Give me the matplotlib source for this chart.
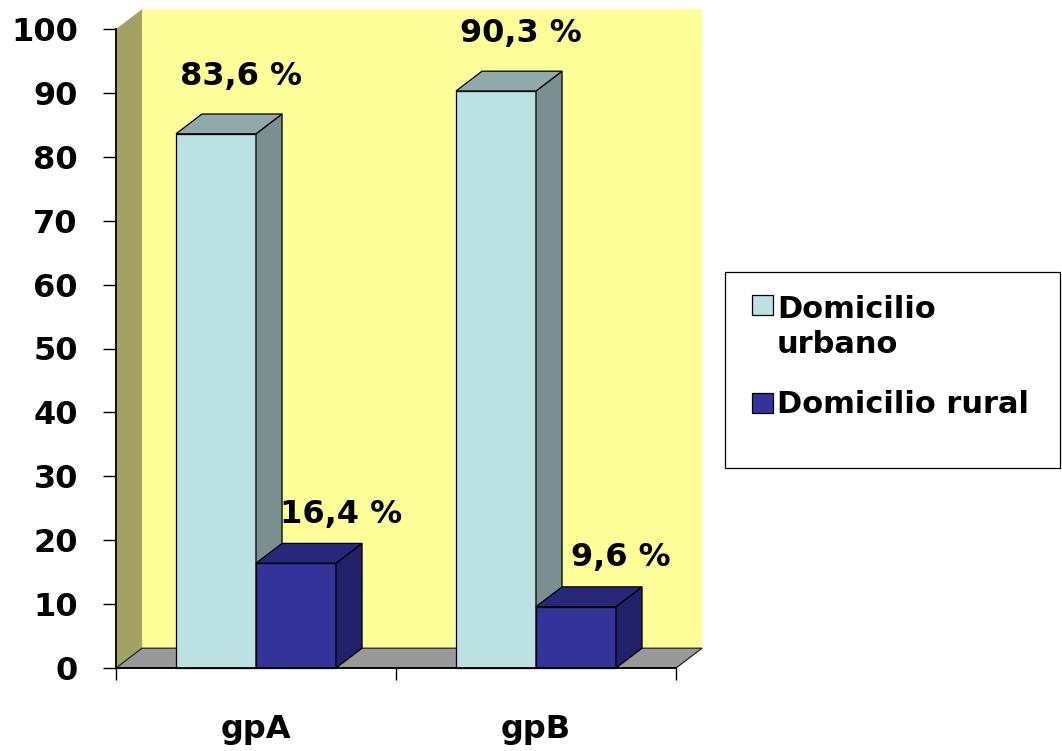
import matplotlib.pyplot as plt
from matplotlib.patches import Polygon, Rectangle

# data
groups = ["gpA", "gpB"]
urbano = [83.6, 90.3]
rural = [16.4, 9.6]
labels_urbano = ["83,6 %", "90,3 %"]
labels_rural = ["16,4 %", "9,6 %"]
legend_names = ["Domicilio\nurbano", "Domicilio rural"]

# colours (front, side, top)
c_urb = ("#bce1e3", "#7a8f90", "#90aaab")
c_rur = ("#333399", "#21216a", "#28287a")
wall_back = "#ffff99"
wall_left = "#a4a263"
floor_col = "#999999"

W, H = 1062, 751
fig = plt.figure(figsize=(W / 100, H / 100), dpi=100)
ax = fig.add_axes([116 / W, 1 - 668 / H, 560 / W, 639 / H])
ax.patch.set_visible(False)
ax.set_xlim(0, 2)
ax.set_ylim(0, 100)

# fake 3d depth in data units
dx, dy = 0.093, 3.1
bw = 0.2857

# walls and floor
ax.add_patch(Polygon([(dx, dy), (2 + dx, dy), (2 + dx, 100 + dy), (dx, 100 + dy)],
                     closed=True, fc=wall_back, ec="none", zorder=0.5, clip_on=False))
ax.add_patch(Polygon([(0, 0), (dx, dy), (dx, 100 + dy), (0, 100)],
                     closed=True, fc=wall_left, ec="none", zorder=0.6, clip_on=False))
ax.add_patch(Polygon([(0, 0), (2, 0), (2 + dx, dy), (dx, dy)],
                     closed=True, fc=floor_col, ec="#222222", lw=0.9, zorder=0.7,
                     clip_on=False))


def bar3d(xc, vals, cols, z):
    ax.bar(xc, vals, width=bw, color=cols[0], edgecolor="black", linewidth=0.9,
           zorder=z, clip_on=False)
    for x, v in zip(xc, vals):
        x0, x1 = x - bw / 2, x + bw / 2
        ax.add_patch(Polygon([(x1, 0), (x1 + dx, dy), (x1 + dx, v + dy), (x1, v)],
                             closed=True, fc=cols[1], ec="black", lw=0.9, zorder=z,
                             clip_on=False))
        ax.add_patch(Polygon([(x0, v), (x0 + dx, v + dy), (x1 + dx, v + dy), (x1, v)],
                             closed=True, fc=cols[2], ec="black", lw=0.9, zorder=z,
                             clip_on=False))


centers = [i + 0.5 for i in range(len(groups))]
x_urb = [c - bw / 2 for c in centers]
x_rur = [c + bw / 2 for c in centers]
bar3d(x_urb, urbano, c_urb, 2)
bar3d(x_rur, rural, c_rur, 3)

font = dict(family="DejaVu Sans", weight="bold")
for x, v, t in zip(x_urb, urbano, labels_urbano):
    ax.text(x + 0.09, v + dy + 4.5, t, ha="center", va="baseline", fontsize=23,
            zorder=5, **font)
for x, v, t in zip(x_rur, rural, labels_rural):
    ax.text(x + 0.16, v + dy + 3.2, t, ha="center", va="baseline", fontsize=23,
            zorder=5, **font)

# axes
for s in ["top", "right"]:
    ax.spines[s].set_visible(False)
ax.spines["left"].set_linewidth(1.3)
ax.spines["bottom"].set_linewidth(1.3)
ax.spines["left"].set_zorder(4)
ax.spines["bottom"].set_zorder(4)

ax.set_yticks(range(0, 101, 10))
ax.tick_params(axis="y", length=9.5, width=1, pad=18, labelsize=23)
ax.set_xticks([0, 1, 2])
ax.set_xticklabels([])
ax.tick_params(axis="x", which="major", length=8.5, width=1)
ax.set_xticks(centers, minor=True)
ax.set_xticklabels(groups, minor=True)
ax.tick_params(axis="x", which="minor", length=0, pad=33, labelsize=23)
for lab in ax.get_yticklabels() + ax.get_xticklabels(minor=True):
    lab.set_fontweight("bold")
    lab.set_family("DejaVu Sans")


# legend box drawn in figure pixels
def fpx(x, y):
    return x / W, 1 - y / H


fig.patches.append(Rectangle(fpx(725, 468), 335 / W, 196 / H, transform=fig.transFigure,
                             fc="white", ec="black", lw=0.9))
fig.patches.append(Rectangle(fpx(752, 315), 21 / W, 20 / H, transform=fig.transFigure,
                             fc=c_urb[0], ec="black", lw=0.9))
fig.patches.append(Rectangle(fpx(752, 413), 21 / W, 20 / H, transform=fig.transFigure,
                             fc=c_rur[0], ec="black", lw=0.9))
fig.text(*fpx(777, 353), legend_names[0], fontsize=22, va="baseline", ha="left",
         linespacing=1.25, **font)
fig.text(*fpx(777, 413), legend_names[1], fontsize=22, va="baseline", ha="left", **font)

fig.savefig("out.png", dpi=100)
